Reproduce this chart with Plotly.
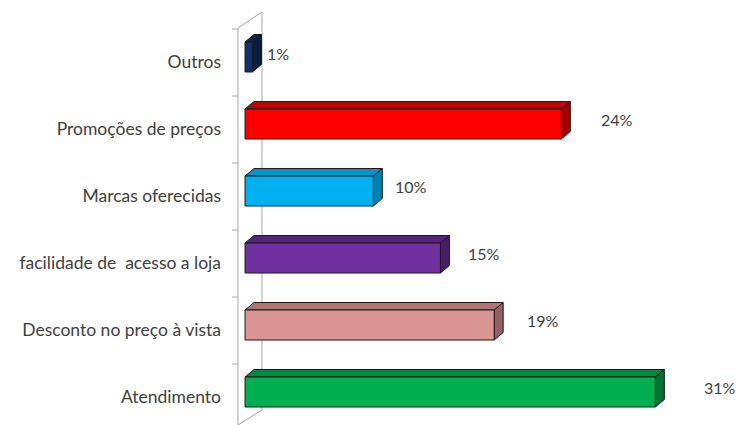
import plotly.graph_objects as go

# Data (bottom to top)
categories = ["Atendimento", "Desconto no preço à vista", "facilidade de  acesso a loja",
              "Marcas oferecidas", "Promoções de preços", "Outros"]
values = [31, 19, 15, 10, 24, 1]
value_labels = ["31%", "19%", "15%", "10%", "24%", "1%"]

# Face colours for each bar: front, top, side
front_colors = ["#00B050", "#DA9694", "#7030A0", "#00B0F0", "#FF0000", "#10306A"]
top_colors = ["#008A3E", "#B07472", "#56247C", "#0094CB", "#C00000", "#0C2552"]
side_colors = ["#007034", "#946160", "#481E68", "#0080AF", "#A00000", "#091D40"]

# 3D box geometry (in axis units)
half_h = 0.224      # half height of the front face
depth_x = 0.67      # horizontal shift of the back face
depth_y = 0.112     # vertical shift of the back face
base_x = 0.45       # where the bar's front face starts
wall_x = 1.713      # back wall position
front_x = -0.074    # front axis position
grid_grey = "#A6A6A6"
font_family = "Lato, Open Sans, sans-serif"

fig = go.Figure()

# Back wall and front axis frame
fig.add_trace(go.Scatter(x=[wall_x, wall_x], y=[5.672, -0.269], mode="lines",
                         line=dict(color=grid_grey, width=1), hoverinfo="skip"))
fig.add_trace(go.Scatter(x=[front_x, front_x], y=[5.433, -0.6], mode="lines",
                         line=dict(color=grid_grey, width=1), hoverinfo="skip"))
fig.add_trace(go.Scatter(x=[front_x, wall_x], y=[5.433, 5.672], mode="lines",
                         line=dict(color=grid_grey, width=1), hoverinfo="skip"))
fig.add_trace(go.Scatter(x=[wall_x, front_x], y=[-0.269, -0.493], mode="lines",
                         line=dict(color=grid_grey, width=1), hoverinfo="skip"))

# Category tick marks on the front axis
tx, ty = [], []
for i in range(len(categories)):
    tx += [-0.521, front_x, None]
    ty += [i + 0.418, i + 0.418, None]
fig.add_trace(go.Scatter(x=tx, y=ty, mode="lines", line=dict(color=grid_grey, width=1),
                         hoverinfo="skip"))

# Boxes
for i, v in enumerate(values):
    y0, y1 = i - half_h, i + half_h
    top = dict(x=[base_x, v, v + depth_x, base_x + depth_x, base_x],
               y=[y1, y1, y1 + depth_y, y1 + depth_y, y1])
    side = dict(x=[v, v + depth_x, v + depth_x, v, v],
                y=[y0, y0 + depth_y, y1 + depth_y, y1, y0])
    front = dict(x=[base_x, v, v, base_x, base_x], y=[y0, y0, y1, y1, y0])
    for face, col in ((top, top_colors[i]), (side, side_colors[i]), (front, front_colors[i])):
        fig.add_trace(go.Scatter(x=face["x"], y=face["y"], mode="lines", fill="toself",
                                 fillcolor=col, line=dict(color="#1a1a1a", width=1),
                                 hoverinfo="skip"))

# Value labels
for i, (v, lab) in enumerate(zip(values, value_labels)):
    fig.add_annotation(x=v * 1.097 + 1.8, y=i + 0.06, text=lab, showarrow=False,
                       xanchor="center", yanchor="middle",
                       font=dict(family=font_family, size=16, color="#404040"))

fig.update_layout(
    width=737, height=425,
    margin=dict(l=232, r=0, t=0, b=0),
    paper_bgcolor="white", plot_bgcolor="white",
    showlegend=False,
    xaxis=dict(range=[-0.521, 37.08], visible=False, fixedrange=True),
    yaxis=dict(range=[-0.4925, 5.851], showgrid=False, zeroline=False, showline=False,
               tickmode="array", tickvals=[i - 0.075 for i in range(len(categories))],
               ticktext=categories, ticks="", ticklabelstandoff=10,
               tickfont=dict(family=font_family, size=17.5, color="#404040"),
               fixedrange=True),
)

fig.write_html("out.html")
